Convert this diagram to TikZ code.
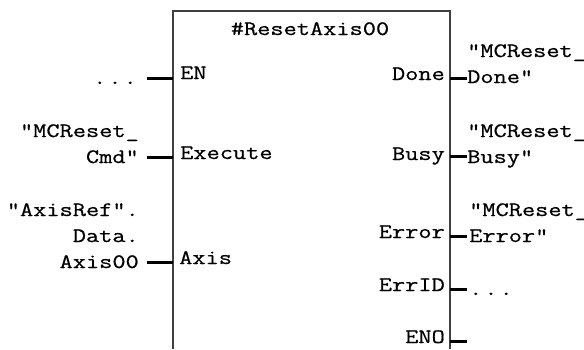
\documentclass[tikz,border=0pt]{standalone}
\usepackage{fontspec}
\setmonofont[FakeStretch=1.25,FakeBold=0.6]{Latin Modern Mono}
\tikzset{
	pinname/.style={inner sep=0pt,font=\ttfamily\fontsize{20.5}{26}\selectfont},
	tagname/.style={pinname,align=right},
	tagleft/.style={pinname,align=left},
	blockline/.style={line width=1.5pt,color=black!75},
	pinline/.style={line width=3pt,color=black}
}
\newcommand{\wdots}{.\kern2pt.\kern2pt.}
\begin{document}
\begin{tikzpicture}[x=1pt,y=-1pt]
	\useasboundingbox (0,0) rectangle (584,349);
	\coordinate (blockbl) at (173,349);
	\coordinate (blocktl) at (173,11);
	\coordinate (blocktr) at (450,11);
	\coordinate (blockbr) at (450,349);
	\draw[blockline] (blockbl) -- (blocktl) -- (blocktr) -- (blockbr);
	\node[pinname,anchor=base] (title) at (310,35) {\#ResetAxis00};

	\node[pinname,anchor=base west] (en) at (180,79) {EN};
	\node[pinname,anchor=base west] (execute) at (180,159) {Execute};
	\node[pinname,anchor=base west] (axis) at (179,264) {Axis};
	\node[pinname,anchor=base east] (done) at (445,80) {Done};
	\node[pinname,anchor=base east] (busy) at (445,160) {Busy};
	\node[pinname,anchor=base east] (error) at (445,238) {Error};
	\node[pinname,anchor=base east] (errid) at (445,291) {ErrID};
	\node[pinname,anchor=base east] (eno) at (445,343) {ENO};

	\node[tagname,anchor=base east] (entag) at (137,84) {\wdots};
	\node[tagname,anchor=base east] (executetag) at (139,163) {"MCReset\_\\Cmd"};
	\node[tagname,anchor=base east] (axistag) at (139,268) {"AxisRef".\\Data.\\Axis00};
	\node[tagleft,anchor=base west] (donetag) at (467,83) {"MCReset\_\\Done"};
	\node[tagleft,anchor=base west] (busytag) at (467,163) {"MCReset\_\\Busy"};
	\node[tagleft,anchor=base west] (errortag) at (469,242) {"MCReset\_\\Error"};
	\node[tagleft,anchor=base west] (erridtag) at (469,295) {\wdots};

	\coordinate (enin) at (147,78);
	\coordinate (executein) at (147,157);
	\coordinate (axisin) at (147,262);
	\coordinate (doneout) at (467,78);
	\coordinate (busyout) at (467,156);
	\coordinate (errorout) at (467,236);
	\coordinate (erridout) at (467,289);
	\coordinate (enoout) at (467,341);
	\draw[pinline] (enin) -- (enin -| blocktl);
	\draw[pinline] (executein) -- (executein -| blocktl);
	\draw[pinline] (axisin) -- (axisin -| blocktl);
	\draw[pinline] (doneout -| blocktr) -- (doneout);
	\draw[pinline] (busyout -| blocktr) -- (busyout);
	\draw[pinline] (errorout -| blocktr) -- (errorout);
	\draw[pinline] (erridout -| blocktr) -- (erridout);
	\draw[pinline] (enoout -| blocktr) -- (enoout);
\end{tikzpicture}
\end{document}
